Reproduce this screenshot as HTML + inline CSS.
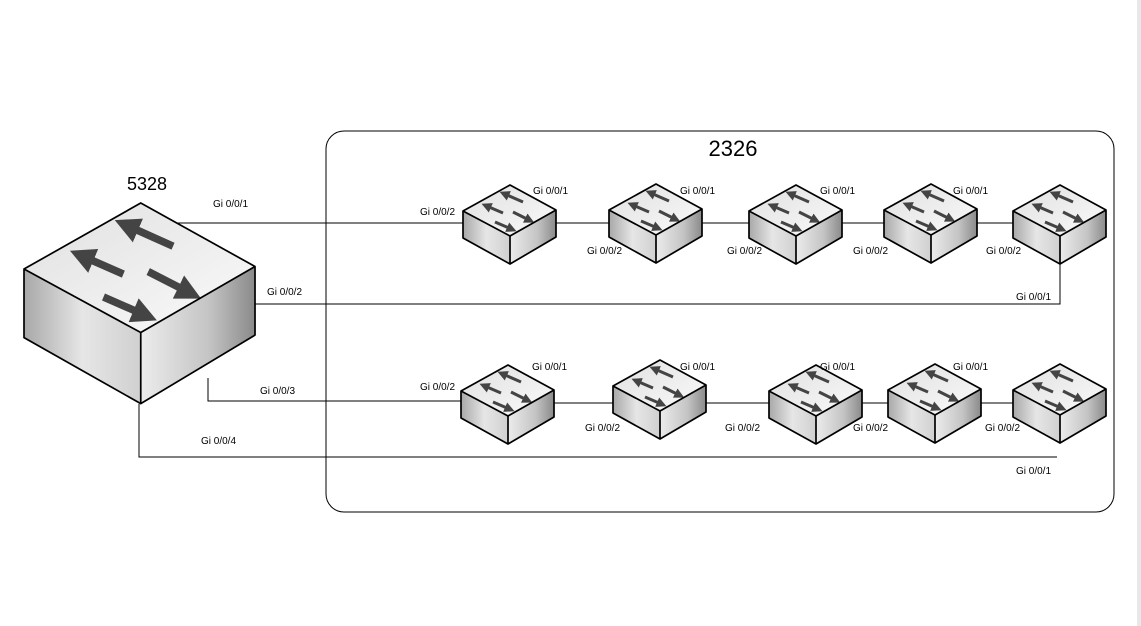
<!DOCTYPE html>
<html><head><meta charset="utf-8"><style>
html,body{margin:0;padding:0;background:#fff;width:1141px;height:626px;overflow:hidden}
svg text{font-family:"Liberation Sans",sans-serif}
</style></head><body>
<svg width="1141" height="626" viewBox="0 0 1141 626" xmlns="http://www.w3.org/2000/svg">
<defs>
<linearGradient id="lf" x1="0" x2="1" y1="0" y2="0"><stop offset="0" stop-color="#a8a8a8"/><stop offset="0.5" stop-color="#e6e6e6"/><stop offset="1" stop-color="#d0d0d0"/></linearGradient>
<linearGradient id="rf" x1="0" x2="1" y1="0" y2="0"><stop offset="0" stop-color="#ececec"/><stop offset="0.6" stop-color="#c4c4c4"/><stop offset="1" stop-color="#8a8a8a"/></linearGradient>
<linearGradient id="tp" x1="0" x2="1" y1="0" y2="1"><stop offset="0" stop-color="#e0e0e0"/><stop offset="1" stop-color="#fafafa"/></linearGradient>
<marker id="ah" viewBox="0 0 10 10" refX="2" refY="5" markerWidth="3.4" markerHeight="3.4" orient="auto"><path d="M0,0L10,5L0,10z" fill="#444"/></marker>
<g id="sw">
<polygon points="0,26 47,51 47,79 0,53" fill="url(#lf)"/>
<polygon points="47,51 93,25 93,52 47,79" fill="url(#rf)"/>
<polygon points="47,0 93,25 47,51 0,26" fill="url(#tp)"/>
<g stroke="#444" stroke-width="3" marker-end="url(#ah)">
<line x1="60" y1="17" x2="44" y2="10"/>
<line x1="40" y1="28" x2="26" y2="22"/>
<line x1="50" y1="27" x2="64" y2="34"/>
<line x1="32" y1="37" x2="46" y2="43"/>
</g>
<g fill="none" stroke="#000" stroke-width="1.7" stroke-linejoin="round" vector-effect="non-scaling-stroke">
<polygon points="47,0 93,25 93,52 47,79 0,53 0,26" vector-effect="non-scaling-stroke"/>
<polyline points="0,26 47,51 93,25" vector-effect="non-scaling-stroke"/><line x1="47" y1="51" x2="47" y2="79" vector-effect="non-scaling-stroke"/>
</g>
</g>
</defs>
<rect x="1137" y="0" width="4" height="626" fill="#e8e8e8"/>
<rect x="326" y="131" width="788" height="381" rx="18" fill="none" stroke="#000" stroke-width="1"/>
<text x="733" y="156" font-size="22" text-anchor="middle">2326</text>
<text x="147" y="190" font-size="18" text-anchor="middle">5328</text>
<g stroke="#000" stroke-width="1" fill="none">
<polyline points="175,223 463,223"/>
<polyline points="255,304 1060,304 1060,264"/>
<polyline points="208,378 208,401 462,401"/>
<polyline points="139,404 139,457 1057,457"/>
<line x1="556" y1="223" x2="609" y2="223"/><line x1="702" y1="223" x2="749" y2="223"/><line x1="842" y1="223" x2="884" y2="223"/><line x1="977" y1="223" x2="1013" y2="223"/>
<line x1="554" y1="403" x2="613" y2="403"/><line x1="706" y1="403" x2="769" y2="403"/><line x1="862" y1="403" x2="888" y2="403"/><line x1="981" y1="403" x2="1013" y2="403"/>
</g>
<use href="#sw" transform="translate(24,203) scale(2.484,2.54)"/>
<use href="#sw" x="463" y="185"/><use href="#sw" x="609" y="184"/><use href="#sw" x="749" y="185"/><use href="#sw" x="884" y="184"/><use href="#sw" x="1013" y="185"/>
<use href="#sw" x="461" y="365"/><use href="#sw" x="613" y="360"/><use href="#sw" x="769" y="365"/><use href="#sw" x="888" y="364"/><use href="#sw" x="1013" y="364"/>
<g font-size="10" fill="#000">
<text x="213" y="207">Gi 0/0/1</text><text x="267" y="295">Gi 0/0/2</text><text x="260" y="394">Gi 0/0/3</text><text x="201" y="444">Gi 0/0/4</text>
<text x="420" y="215">Gi 0/0/2</text><text x="533" y="194">Gi 0/0/1</text><text x="587" y="254">Gi 0/0/2</text><text x="680" y="194">Gi 0/0/1</text><text x="727" y="254">Gi 0/0/2</text><text x="820" y="194">Gi 0/0/1</text><text x="853" y="254">Gi 0/0/2</text><text x="953" y="194">Gi 0/0/1</text><text x="986" y="254">Gi 0/0/2</text><text x="1016" y="300">Gi 0/0/1</text>
<text x="420" y="390">Gi 0/0/2</text><text x="532" y="370">Gi 0/0/1</text><text x="585" y="431">Gi 0/0/2</text><text x="680" y="370">Gi 0/0/1</text><text x="725" y="431">Gi 0/0/2</text><text x="820" y="370">Gi 0/0/1</text><text x="853" y="431">Gi 0/0/2</text><text x="953" y="370">Gi 0/0/1</text><text x="985" y="431">Gi 0/0/2</text><text x="1016" y="474">Gi 0/0/1</text>
</g>
</svg>
</body></html>
